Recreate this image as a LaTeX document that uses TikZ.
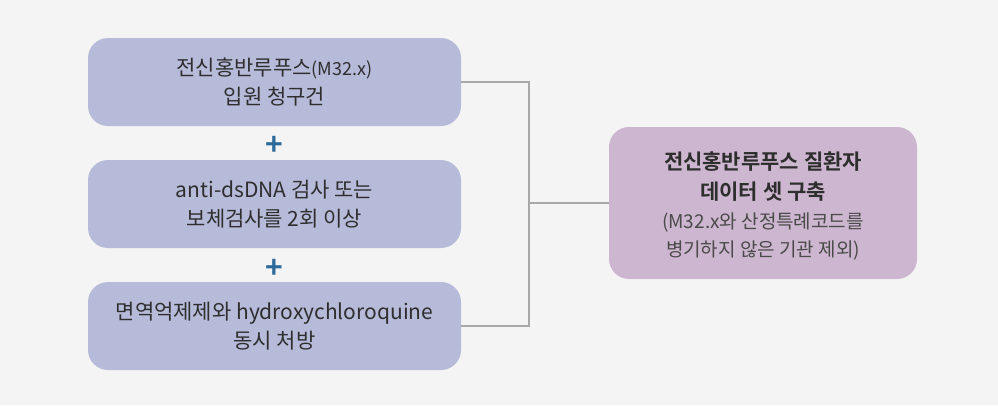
\documentclass[tikz,border=0pt]{standalone}
\usepackage{fontspec}
\setmainfont{Noto Sans CJK KR}[BoldFont={Noto Sans CJK KR Bold}]
\definecolor{bgc}{HTML}{F4F4F4}
\definecolor{boxa}{HTML}{B7BBDA}
\definecolor{boxb}{HTML}{CDB6CF}
\definecolor{txt}{HTML}{2E2E2E}
\definecolor{subtxt}{HTML}{4A4A4A}
\definecolor{plusc}{HTML}{2C6A9C}
\definecolor{linec}{HTML}{A8A8A8}
\tikzset{
  leftbox/.style={fill=boxa, rounded corners=20pt, minimum width=373pt, minimum height=88pt, inner sep=0pt,
    align=center, text=txt, font=\fontsize{21}{28.5}\selectfont},
  rightbox/.style={fill=boxb, rounded corners=20pt, minimum width=308pt, minimum height=152pt, inner sep=0pt,
    align=center, text=txt, font=\fontsize{21}{28.5}\selectfont},
  plussign/.style={text=plusc, font=\fontsize{30}{30}\selectfont\bfseries, inner sep=0pt},
  conn/.style={draw=linec, line width=1.6pt}
}
\begin{document}
\begin{tikzpicture}[x=1pt,y=-1pt]
\fill[bgc] (0,0) rectangle (998,405);
\useasboundingbox (0,0) rectangle (998,405);
\node[leftbox] (a) at (274.5,82) {전신홍반루푸스{\fontsize{18}{28.5}\selectfont(M32.x)}\\입원 청구건};
\node[leftbox] (b) at (274.5,204) {anti-dsDNA 검사 또는\\보체검사를 2회 이상};
\node[leftbox] (c) at (274.5,326) {면역억제제와 hydroxychloroquine\\동시 처방};
\node[rightbox] (d) at (763,203) {};
\node[align=center, text=txt, font=\fontsize{21}{28.5}\selectfont, inner sep=0pt] (dt) at (763,206)
  {{\bfseries 전신홍반루푸스 질환자}\\[1.5pt]{\bfseries 데이터 셋 구축}\\{\color{subtxt}\fontsize{19}{28}\selectfont(M32.x와 산정특례코드를}\\{\color{subtxt}\fontsize{19}{28}\selectfont 병기하지 않은 기관 제외)}};
\node[plussign] (p1) at (274.5,146) {+};
\node[plussign] (p2) at (274.5,269) {+};
\coordinate (j) at (529,203);
\draw[conn] (a.east) -| (j);
\draw[conn] (c.east) -| (j);
\draw[conn] (j) -- (d.west);
\end{tikzpicture}
\end{document}
